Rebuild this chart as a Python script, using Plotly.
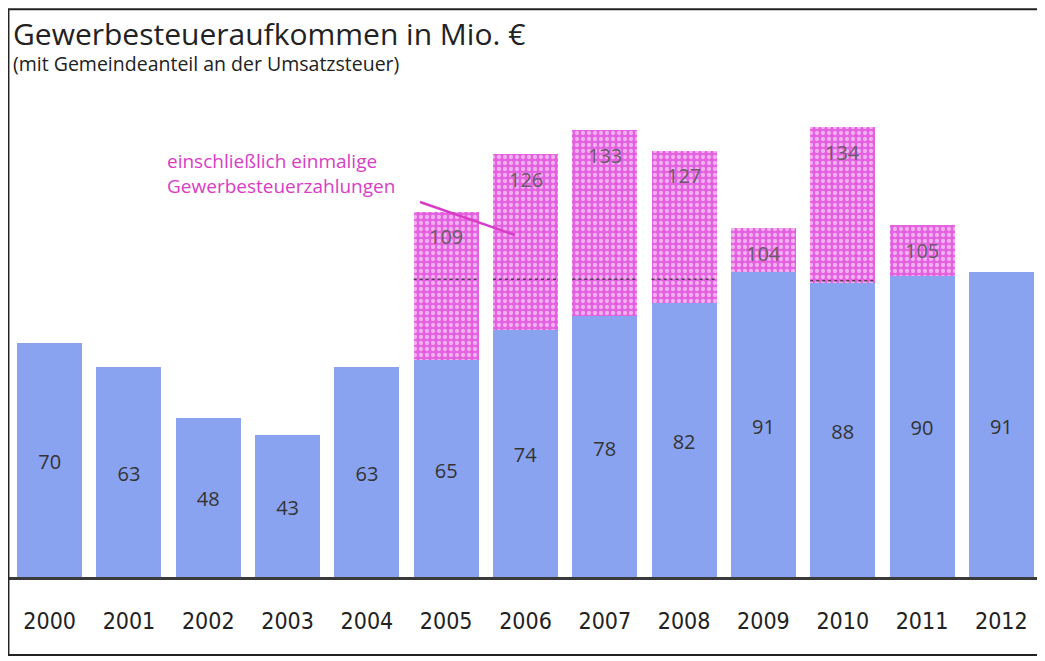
import plotly.graph_objects as go

years = ["2000", "2001", "2002", "2003", "2004", "2005", "2006",
         "2007", "2008", "2009", "2010", "2011", "2012"]
base_values = [70, 63, 48, 43, 63, 65, 74, 78, 82, 91, 88, 90, 91]
total_values = [None, None, None, None, None, 109, 126, 133, 127, 104, 134, 105, None]
divider_values = [None, None, None, None, None, 89, 89, 89, 89, None, 88.5, None, None]

title_text = "Gewerbesteueraufkommen in Mio. €"
subtitle_text = "(mit Gemeindeanteil an der Umsatzsteuer)"
note_text = "einschließlich einmalige<br>Gewerbesteuerzahlungen"

BLUE = "#8aa3f0"
PINK = "#e460e0"
MAGENTA = "#d93cc6"
FONT = "Open Sans"
NARROW = "Liberation Sans Narrow, DejaVu Sans Condensed, Open Sans"

extra_values = [(t - b) if t is not None else 0 for t, b in zip(total_values, base_values)]

fig = go.Figure()
fig.add_trace(go.Bar(
    x=years, y=base_values, marker=dict(color=BLUE, line=dict(width=0)),
    text=[str(v) for v in base_values], textposition="inside",
    insidetextanchor="middle", textangle=0,
    textfont=dict(family=FONT, size=20, color="#333333"),
    hoverinfo="skip", showlegend=False,
))
fig.add_trace(go.Bar(
    x=years, y=extra_values,
    marker=dict(color=PINK, line=dict(width=0),
                pattern=dict(shape=".", fgcolor="white", bgcolor=PINK,
                             size=6, solidity=0.4)),
    hoverinfo="skip", showlegend=False,
))

# total labels
for i, t in enumerate(total_values):
    if t is not None:
        fig.add_annotation(x=i, y=t, yshift=-25, text=str(t), showarrow=False,
                           font=dict(family=FONT, size=20, color="#6a5a6a"))

# dotted dividers
for i, d in enumerate(divider_values):
    if d is not None:
        fig.add_shape(type="line", xref="x", yref="y", x0=i - 0.41, x1=i + 0.41,
                      y0=d, y1=d, line=dict(color="#5a3a5a", width=1.5, dash="dot"),
                      layer="above")

# baseline
fig.add_shape(type="line", xref="paper", yref="y", x0=-0.002, x1=1.0, y0=0, y1=0,
              line=dict(color="#3a3a3a", width=6), layer="above")
# frame
fig.add_shape(type="rect", xref="paper", yref="paper", x0=-0.0015, x1=1.0025,
              y0=-0.156, y1=1.189, line=dict(color="#222222", width=2))

# note and pointer
fig.add_annotation(xref="paper", yref="paper", x=0.150, y=0.846, xanchor="left",
                   yanchor="middle", align="left", text=note_text, showarrow=False,
                   font=dict(family=FONT, size=19, color=MAGENTA))
fig.add_shape(type="line", xref="paper", yref="paper", x0=0.3977, y0=0.7875,
              x1=0.4898, y1=0.71875, line=dict(color=MAGENTA, width=2.5), layer="above")

# title and subtitle
fig.add_annotation(xref="paper", yref="paper", x=0.001, y=1.139, xanchor="left",
                   yanchor="middle", text=title_text, showarrow=False,
                   font=dict(family=FONT, size=30, color="#222222"))
fig.add_annotation(xref="paper", yref="paper", x=0.001, y=1.076, xanchor="left",
                   yanchor="middle", text=subtitle_text, showarrow=False,
                   font=dict(family=FONT, size=19.5, color="#222222"))

fig.update_layout(
    width=1037, height=653,
    margin=dict(l=2, r=4, t=92, b=81),
    barmode="stack", bargap=0.18,
    plot_bgcolor="white", paper_bgcolor="white",
    xaxis=dict(type="category", range=[-0.5, len(years) - 0.5], showgrid=False,
               showline=False, ticks="", ticklabelstandoff=25, automargin=False,
               tickfont=dict(family=NARROW, size=23, color="#222222"), fixedrange=True),
    yaxis=dict(range=[0, 142], visible=False, fixedrange=True, automargin=False),
)

fig.write_html("out.html")
